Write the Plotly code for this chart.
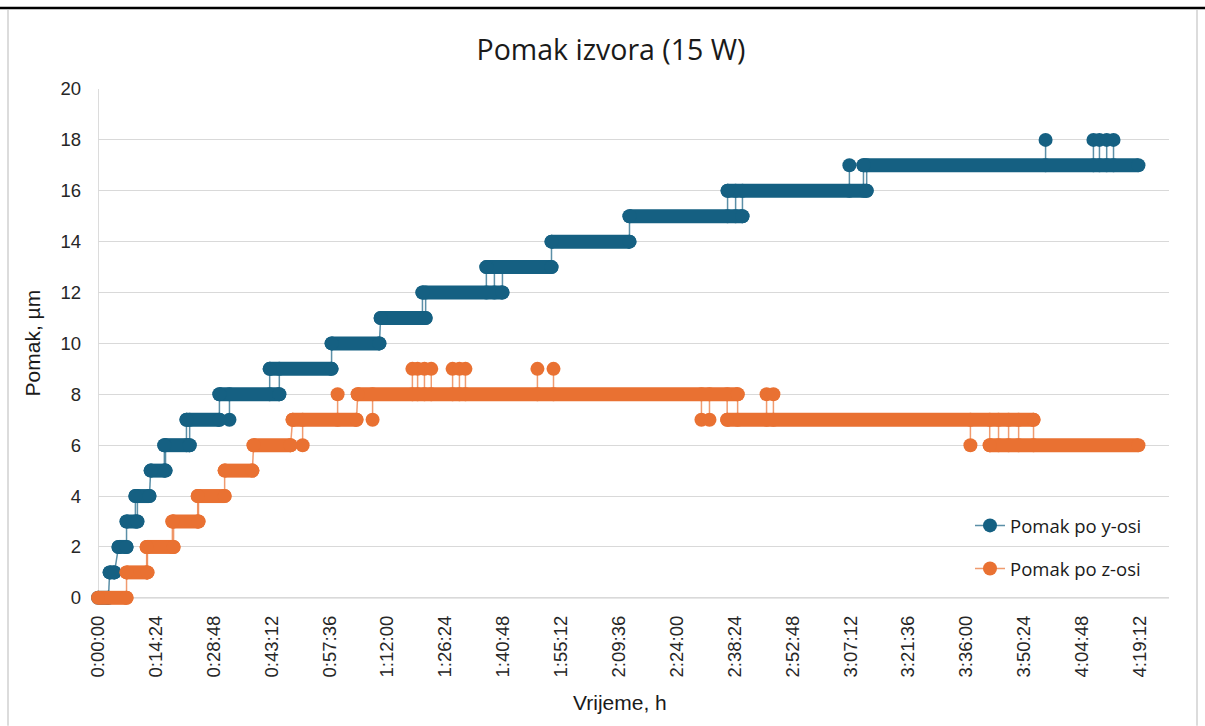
import plotly.graph_objects as go

# ---------------- data (time in minutes) ----------------
# y-axis displacement: runs of constant reading
y_run_start = [0, 2.9, 5.1, 7.1, 9.3, 13.1, 16.5, 22.0, 30.2, 42.7, 58.1, 70.3, 80.7, 96.6, 112.8, 132.2, 156.6, 190.4]
y_run_end   = [2.6, 4.1, 7.1, 9.8, 12.8, 16.8, 22.8, 30.2, 45.1, 58.1, 70.0, 81.5, 100.6, 112.8, 132.2, 160.3, 191.2, 258.8]
y_run_level = [0, 1, 2, 3, 4, 5, 6, 7, 8, 9, 10, 11, 12, 13, 14, 15, 16, 17]
# isolated readings (time, value, value of surrounding run)
y_spike_t    = [32.7, 98.6, 158.6, 186.9, 235.7, 247.6, 249.1, 250.9, 252.6]
y_spike_v    = [7, 12, 16, 17, 18, 18, 18, 18, 18]
y_spike_base = [8, 13, 15, 16, 17, 17, 17, 17, 17]

# z-axis displacement
z_run_start = [0, 7.1, 12.1, 18.5, 24.8, 31.5, 38.7, 48.4, 64.6, 156.5, 221.8]
z_run_end   = [7.1, 12.3, 18.8, 25.0, 31.5, 38.4, 47.9, 64.3, 159.1, 232.7, 258.8]
z_run_level = [0, 1, 2, 3, 4, 5, 6, 7, 8, 7, 6]
z_spike_t    = [50.9, 59.6, 68.3, 78.2, 79.5, 81.2, 82.9, 88.2, 89.9, 91.4, 109.3, 113.3,
                150.1, 152.1, 166.3, 168.0, 217.0, 224.0, 226.5, 229.0]
z_spike_v    = [6, 8, 7, 9, 9, 9, 9, 9, 9, 9, 9, 9, 7, 7, 8, 8, 6, 7, 7, 7]
z_spike_base = [7, 7, 8, 8, 8, 8, 8, 8, 8, 8, 8, 8, 8, 8, 7, 7, 7, 6, 6, 6]

x_tick_labels = ["0:00:00", "0:14:24", "0:28:48", "0:43:12", "0:57:36", "1:12:00", "1:26:24",
                 "1:40:48", "1:55:12", "2:09:36", "2:24:00", "2:38:24", "2:52:48", "3:07:12",
                 "3:21:36", "3:36:00", "3:50:24", "4:04:48", "4:19:12"]

series_names = ["Pomak po y-osi", "Pomak po z-osi"]
BLUE = "#156082"
ORANGE = "#E97132"


def to_min(lbl):
    h, m, s = [int(p) for p in lbl.split(":")]
    return h * 60 + m + s / 60.0


x_tick_vals = [to_min(l) for l in x_tick_labels]


def band_xy(starts, ends, levels):
    xs, ys = [], []
    for s, e, v in zip(starts, ends, levels):
        xs += [s, e, None]
        ys += [v, v, None]
    return xs, ys


def connector_xy(starts, ends, levels, st, sv, sb):
    xs, ys = [], []
    for i in range(1, len(starts)):
        s0, e0, v0 = starts[i - 1], ends[i - 1], levels[i - 1]
        s1, e1, v1 = starts[i], ends[i], levels[i]
        if s1 >= e0:
            xs += [e0, s1, None]
            ys += [v0, v1, None]
        else:
            xs += [s1, s1, None, e0, e0, None]
            ys += [v0, v1, None, v0, v1, None]
    for t, v, b in zip(st, sv, sb):
        xs += [t, t, None]
        ys += [b, v, None]
    return xs, ys


fig = go.Figure()

MS = 14
for name, color, lc, starts, ends, levels, st, sv, sb in [
    (series_names[0], BLUE, "rgba(21,96,130,0.7)", y_run_start, y_run_end, y_run_level,
     y_spike_t, y_spike_v, y_spike_base),
    (series_names[1], ORANGE, "rgba(233,113,50,0.7)", z_run_start, z_run_end, z_run_level,
     z_spike_t, z_spike_v, z_spike_base),
]:
    cx, cy = connector_xy(starts, ends, levels, st, sv, sb)
    fig.add_trace(go.Scatter(
        x=cx, y=cy, mode="lines+markers", name=name, legendgroup=name,
        line=dict(color=lc, width=1.5),
        marker=dict(color=color, size=MS, line=dict(width=0)),
        cliponaxis=False, connectgaps=False, hoverinfo="skip"))
    bx, by = band_xy(starts, ends, levels)
    fig.add_trace(go.Scatter(
        x=bx, y=by, mode="lines+markers", showlegend=False, legendgroup=name,
        line=dict(color=color, width=MS),
        marker=dict(color=color, size=MS, line=dict(width=0)),
        cliponaxis=False, connectgaps=False, hoverinfo="skip"))

W, H = 1205, 726
Y_LO = -0.4                       # small pad below zero so the bands at 0 are not clipped
PX_PER_UNIT = (598 - 89) / 20.0
L, R, T = 98, 36, 89
B = H - (598 + (-Y_LO) * PX_PER_UNIT)
pw, ph = W - L - R, H - T - B


def px(xp):
    return (xp - L) / pw


def py(yp):
    return (H - B - yp) / ph


TICKFONT = dict(family="Liberation Sans, Arial, sans-serif", size=18.5, color="#262626")
AX_COL = "#d0d0d0"

fig.update_layout(
    width=W, height=H,
    margin=dict(l=L, r=R, t=T, b=B, autoexpand=False),
    paper_bgcolor="white", plot_bgcolor="white",
    title=dict(text="Pomak izvora (15 W)", x=px(611), xanchor="center", xref="paper",
               y=1 - 50 / H, yanchor="middle", yref="container",
               font=dict(family="Open Sans, sans-serif", size=28.5, color="#1a1a1a")),
    xaxis=dict(range=[0, 266.4], tickmode="array", tickvals=x_tick_vals, ticktext=x_tick_labels,
               tickangle=-90, tickfont=TICKFONT, showgrid=False, zeroline=False,
               showline=False, ticks="", ticklabelstandoff=3),
    yaxis=dict(range=[Y_LO, 20], tickmode="array", tickvals=list(range(0, 21, 2)),
               tickfont=TICKFONT, showgrid=True,
               gridcolor="#d9d9d9", gridwidth=1.3, zeroline=False,
               showline=False, ticks="", ticklabelstandoff=16),
    legend=dict(x=px(970), y=py(507), xanchor="left", yanchor="top",
                bgcolor="rgba(0,0,0,0)", tracegroupgap=16, traceorder="grouped",
                font=dict(family="Open Sans, sans-serif", size=18.5, color="#1a1a1a"),
                itemsizing="trace"),
    annotations=[
        dict(text="Pomak, µm", textangle=-90, x=px(32), y=py(343.5), xref="paper", yref="paper",
             showarrow=False, xanchor="center", yanchor="middle",
             font=dict(family="Liberation Sans, Arial, sans-serif", size=21, color="#1a1a1a")),
        dict(text="Vrijeme, h", x=px(620), y=py(703), xref="paper", yref="paper",
             showarrow=False, xanchor="center", yanchor="middle",
             font=dict(family="Liberation Sans, Arial, sans-serif", size=21, color="#1a1a1a")),
    ],
    shapes=[
        # axis lines
        dict(type="line", xref="x", yref="y", x0=0, x1=266.4, y0=0, y1=0,
             line=dict(color=AX_COL, width=1.5), layer="below"),
        dict(type="line", xref="x", yref="y", x0=0, x1=0, y0=0, y1=20,
             line=dict(color=AX_COL, width=1.5), layer="below"),
        # page frame
        dict(type="line", xref="paper", yref="paper", x0=px(0), x1=px(W), y0=py(8), y1=py(8),
             line=dict(color="black", width=2.5)),
        dict(type="line", xref="paper", yref="paper", x0=px(8), x1=px(8), y0=py(10), y1=py(H),
             line=dict(color=AX_COL, width=1.5)),
        dict(type="line", xref="paper", yref="paper", x0=px(1197), x1=px(1197), y0=py(10), y1=py(H),
             line=dict(color=AX_COL, width=1.5)),
    ],
    showlegend=True,
)

fig.write_html("out.html", config={"displayModeBar": False},
               post_script="document.body.style.margin='0px';")
